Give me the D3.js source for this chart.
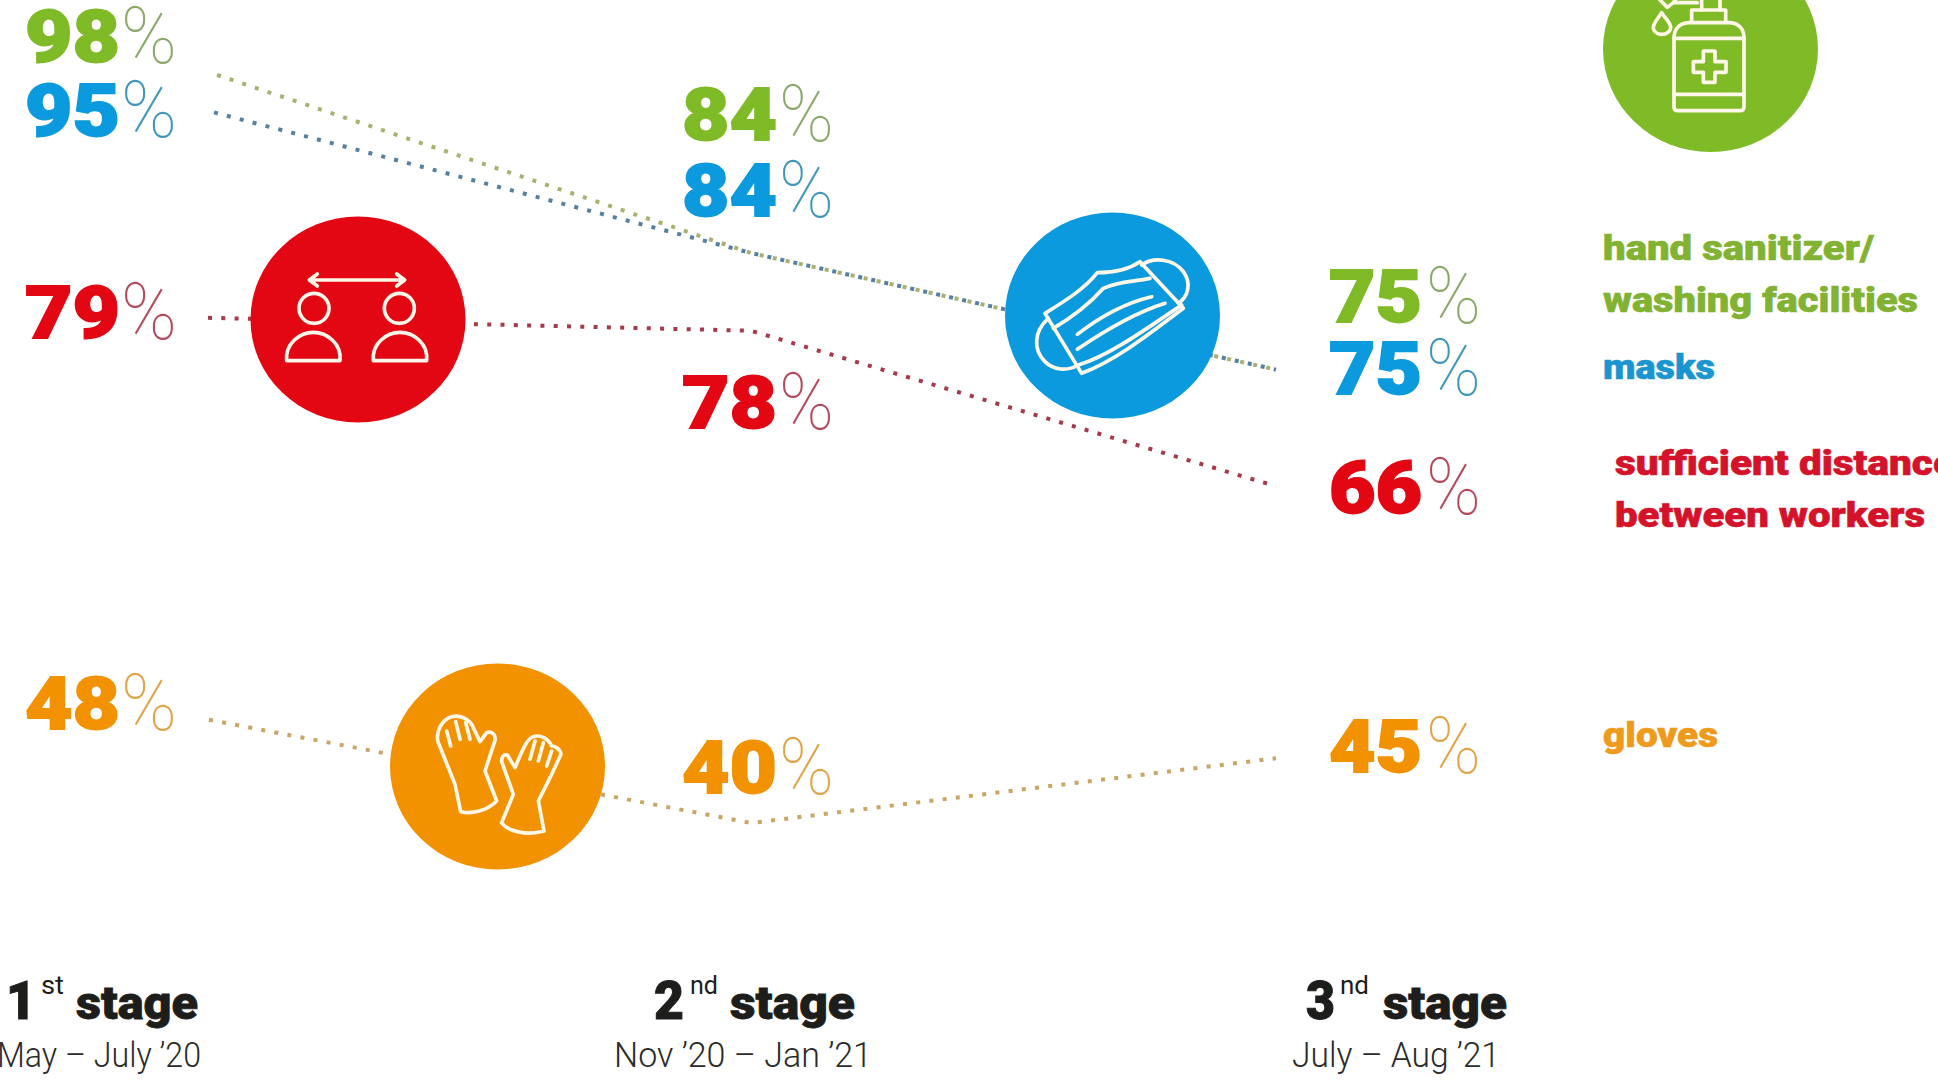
<!DOCTYPE html>
<html>
<head>
<meta charset="utf-8">
<title>Hygiene measures by survey stage</title>
<script src="https://cdn.jsdelivr.net/npm/d3@7"></script>
<style>
  html, body { margin: 0; padding: 0; background: #fff; overflow: hidden; }
  svg { display: block; }
  text { font-family: Roboto, "Open Sans", sans-serif; }
</style>
</head>
<body>
<svg id="chart" width="1938" height="1081"></svg>
<script>
// Share of workplaces applying each measure, per survey stage
const stages = ["1st", "2nd", "3rd"];
const sanitizerValues = [98, 84, 75];
const maskValues = [95, 84, 75];
const distanceValues = [79, 78, 66];
const gloveValues = [48, 40, 45];

const seriesNames = ["sanitizer", "masks", "distance", "gloves"];
const stageNumbers = ["1", "2", "3"];
const stageSuffixes = ["st", "nd", "nd"];
const stageWord = "stage";
const stagePeriods = ["May – July ’20", "Nov ’20 – Jan ’21", "July – Aug ’21"];

const legendSanitizer = ["hand sanitizer/", "washing facilities"];
const legendMasks = ["masks"];
const legendDistance = ["sufficient distance", "between workers"];
const legendGloves = ["gloves"];

const valuesBySeries = [sanitizerValues, maskValues, distanceValues, gloveValues];

// Styling per series
const fillColors = ["#7fba27", "#0c9ade", "#e30613", "#f39200"];
const legendColors = ["#82b232", "#1b95cf", "#d4122a", "#ee9a1c"];
const lineColors = ["#a9b072", "#55809f", "#a63a4c", "#c9a566"];
const percentColors = ["#8aa86a", "#3f96b8", "#b5485a", "#e0a347"];
const lineTrim = [10, 7, 1, 2];

const svg = d3.select("#chart");

const x = d3.scaleOrdinal().domain(stages).range([207, 751, 1276]);
const y = d3.scaleLinear().domain([40, 84]).range([823, 253]);

// Connecting lines, each one clipped a little after the first stage
const line = d3.line().x(d => d[0]).y(d => d[1]);
const drawOrder = [3, 2, 0, 1];
drawOrder.forEach(i => {
  const vals = valuesBySeries[i];
  const pts = stages.map((s, k) => [x(s), y(vals[k])]);
  const t = lineTrim[i] / (pts[1][0] - pts[0][0]);
  pts[0] = d3.interpolate(pts[0], pts[1])(t);
  svg.append("path")
    .attr("d", line(pts))
    .attr("fill", "none")
    .attr("stroke", lineColors[i])
    .attr("stroke-width", 4)
    .attr("stroke-dasharray", "4 9.3");
});

// Value labels: heavy digits with a hairline percent sign
const digitBox = [{x: 25, w: 95}, {x: 682, w: 95}, {x: 1329, w: 93}];
const percentBox = [{x: 121, w: 56}, {x: 779, w: 55}, {x: 1426, w: 55}];
const valueBaselines = [
  [62, 140, 322],
  [136, 216, 394],
  [338, 428, 513],
  [729, 793, 772]
];
const valueFont = 72;
const percentFont = 80;

valuesBySeries.forEach((vals, i) => {
  vals.forEach((v, k) => {
    svg.append("text")
      .attr("x", digitBox[k].x).attr("y", valueBaselines[i][k])
      .attr("font-size", valueFont).attr("font-weight", 900)
      .attr("textLength", digitBox[k].w).attr("lengthAdjust", "spacingAndGlyphs")
      .attr("fill", fillColors[i])
      .attr("stroke", fillColors[i]).attr("stroke-width", 1.8)
      .text(v);
    svg.append("text")
      .attr("x", percentBox[k].x).attr("y", valueBaselines[i][k] + 1)
      .attr("font-size", percentFont).attr("font-weight", 100)
      .attr("textLength", percentBox[k].w).attr("lengthAdjust", "spacingAndGlyphs")
      .attr("fill", percentColors[i]).text("%");
  });
});

// Legend text to the right of the last stage
const legendRows = [
  {lines: legendSanitizer, c: 0, x: 1603, base: [260, 312], w: [271, 315]},
  {lines: legendMasks, c: 1, x: 1603, base: [379], w: [112]},
  {lines: legendDistance, c: 2, x: 1615, base: [475, 527], w: [340, 310]},
  {lines: legendGloves, c: 3, x: 1603, base: [747], w: [115]}
];
legendRows.forEach(r => {
  r.lines.forEach((t, k) => {
    svg.append("text")
      .attr("x", r.x).attr("y", r.base[k])
      .attr("font-size", 35).attr("font-weight", 900)
      .attr("textLength", r.w[k]).attr("lengthAdjust", "spacingAndGlyphs")
      .attr("fill", legendColors[r.c])
      .attr("stroke", legendColors[r.c]).attr("stroke-width", 0.6)
      .text(t);
  });
});

// Stage captions along the bottom
const numberBox = [{x: 6, w: 30}, {x: 654, w: 30}, {x: 1306, w: 29}];
const suffixBox = [{x: 41, w: 23}, {x: 690, w: 28}, {x: 1340, w: 29}];
const wordBox = [{x: 76, w: 122}, {x: 730, w: 125}, {x: 1383, w: 124}];
const periodBox = [{x: -3, w: 204}, {x: 614, w: 258}, {x: 1292, w: 208}];

stages.forEach((s, k) => {
  const put = (box, base, size, weight, fill, str) => svg.append("text")
    .attr("x", box.x).attr("y", base)
    .attr("font-size", size).attr("font-weight", weight)
    .attr("textLength", box.w).attr("lengthAdjust", "spacingAndGlyphs")
    .attr("fill", fill).text(str);
  put(numberBox[k], 1019, 54, 900, "#1d1d1b", stageNumbers[k])
    .attr("stroke", "#1d1d1b").attr("stroke-width", 1);
  put(suffixBox[k], 994, 25, 400, "#1d1d1b", stageSuffixes[k]);
  put(wordBox[k], 1019, 46, 900, "#1d1d1b", stageWord)
    .attr("stroke", "#1d1d1b").attr("stroke-width", 0.8);
  put(periodBox[k], 1067, 35, 300, "#2b2b2b", stagePeriods[k]);
});

// Round badges with outline pictograms
const badges = [
  {c: 2, cx: 358, cy: 319.5, origin: [230, 200], paths: [
    "M240,240H522M262,222L238,240L262,258M500,222L524,240L500,258",
    "M297,325A45,45 0 1 1 207,325A45,45 0 1 1 297,325Z",
    "M553,325A45,45 0 1 1 463,325A45,45 0 1 1 553,325Z",
    "M170,482C165,430 210,397 250,397C290,397 335,430 330,482Z",
    "M430,482C425,430 470,397 510,397C550,397 595,430 590,482Z"
  ]},
  {c: 1, cx: 1112.5, cy: 315.5, origin: [990, 200], paths: [
    "M165,340C230,300 285,265 322,218C365,218 410,212 450,185L580,325C480,400 380,480 275,520Z",
    "M190,385C250,350 300,310 340,265C380,245 430,245 480,235",
    "M265,495C350,470 450,400 575,315",
    "M262,403C330,350 400,310 485,290",
    "M262,448C340,395 430,340 525,310",
    "M455,195C490,170 550,175 580,215C605,250 595,290 565,310",
    "M175,355C130,395 130,450 165,485C190,510 230,515 265,495"
  ]},
  {c: 3, cx: 497.5, cy: 766.5, origin: [370, 651], paths: [
    "M272,482L255,400L205,275C195,245 215,205 245,197C270,190 300,205 310,230L330,272L350,245C365,240 378,250 375,268L345,360L380,450C350,480 305,490 272,482Z",
    "M230,240L242,285M257,212L270,265M287,215L300,265",
    "M395,515C410,540 470,555 522,540L505,450L545,370L573,310C570,290 550,285 545,285C535,262 510,250 490,257C470,265 460,290 435,350L412,312C402,308 392,320 396,335L430,430Z",
    "M495,270L480,325M520,275L505,330M545,300L530,345"
  ]},
  {c: 0, cx: 1710.5, cy: 49, origin: [1560, 0], paths: [
    "M342,115C342,85 360,70 385,68H510C535,70 552,85 552,115V320Q552,332 540,332H354Q342,332 342,320Z",
    "M342,115H552M342,283H552",
    "M395,65V30H497V65",
    "M425,30V-20H480V30",
    "M340,8L412,8M425,-20H360L340,8L322,22L300,0",
    "M305,38C295,55 278,70 280,85C283,98 295,103 305,103C318,103 332,95 332,82C332,68 315,55 305,38Z",
    "M430,153H465V185H498V217H465V247H430V217H400V185H430Z"
  ]}
];

badges.forEach(b => {
  svg.append("ellipse")
    .attr("cx", b.cx).attr("cy", b.cy).attr("rx", 107.5).attr("ry", 103)
    .attr("fill", fillColors[b.c]);
  const g = svg.append("g")
    .attr("transform", `translate(${b.origin[0]},${b.origin[1]}) scale(${1 / 3})`)
    .attr("fill", "none").attr("stroke", "#fff7e8")
    .attr("stroke-width", 11).attr("stroke-linejoin", "round").attr("stroke-linecap", "round");
  b.paths.forEach(d => g.append("path").attr("d", d));
});
</script>
</body>
</html>
